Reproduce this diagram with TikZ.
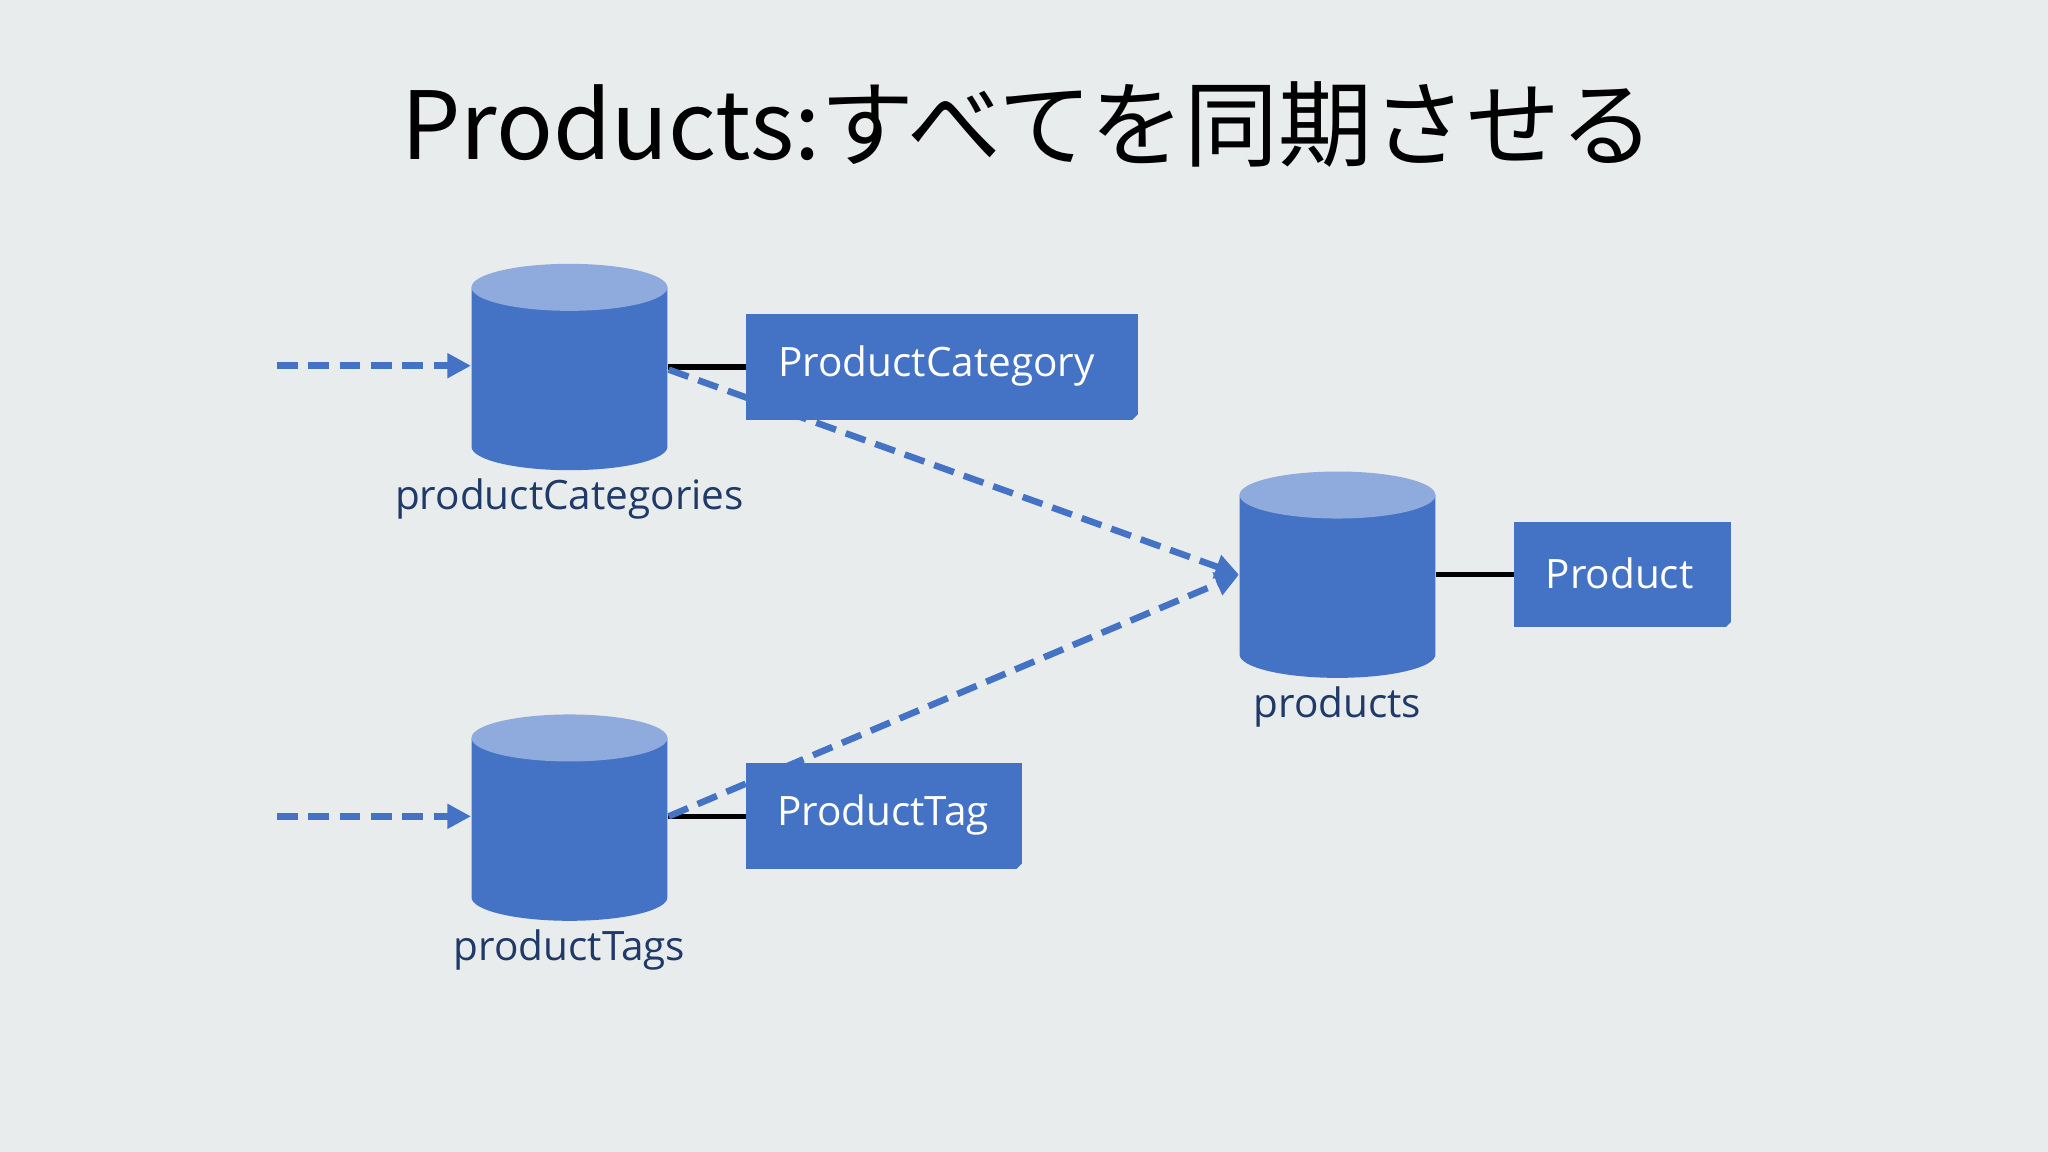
\documentclass[tikz,border=0pt]{standalone}
\usepackage{fontspec}
\setmainfont{Open Sans}
\newfontfamily\cjk{Noto Sans CJK JP}
\usetikzlibrary{arrows.meta}
\definecolor{bg}{HTML}{E8ECEC}
\definecolor{body}{HTML}{4472C4}
\definecolor{topc}{HTML}{8FAADC}
\definecolor{lab}{HTML}{1F3A68}
\begin{document}
\begin{tikzpicture}[x=0.5pt,y=-0.5pt,
  lbl/.style={text=lab,font=\fontsize{15.5}{18}\selectfont},
  box/.style={fill=body,text=white,font=\fontsize{16}{18}\selectfont,inner sep=0,anchor=north west},
  dasharrow/.style={body,line width=2.5pt,dash pattern=on 8pt off 4pt,-{Triangle[length=9pt,width=9pt]}},
  link/.style={black,line width=2pt}]
\fill[bg] (0,0) rectangle (1568,882);
\useasboundingbox (0,0) rectangle (1568,882);
\node[font=\cjk\fontsize{36}{40}\selectfont] (title) at (787,95) {Products:すべてを同期させる};
\def\cyl#1#2#3{%
  \fill[body] (#2-75,#3) -- (#2-75,#3+122) arc[start angle=180,end angle=0,x radius=75,y radius=18] -- (#2+75,#3) -- cycle;
  \fill[topc] (#2,#3) ellipse[x radius=75,y radius=18];
  \node[minimum width=75pt,minimum height=79pt,inner sep=0] (#1) at (#2,#3+61) {};}
\cyl{cat}{436}{220}
\cyl{tag}{436}{565}
\cyl{prod}{1024}{379}
\node[lbl] (catl) at (436,382) {productCategories};
\node[lbl] (tagl) at (436,727) {productTags};
\node[lbl] (prodl) at (1024,541) {products};
\node[box,minimum width=150pt,minimum height=40.5pt] (catb) at (571,240) {};
\node[box,minimum width=105.5pt,minimum height=40.5pt] (tagb) at (571,584) {};
\node[box,minimum width=83pt,minimum height=40.5pt] (prodb) at (1159,399) {};
\node[text=white,font=\fontsize{15.5}{18}\selectfont] (catt) at (717,280) {ProductCategory};
\node[text=white,font=\fontsize{15.5}{18}\selectfont] (tagt) at (676,624) {ProductTag};
\node[text=white,font=\fontsize{15.5}{18}\selectfont] (prodt) at (1240,439) {Product};
\foreach \b in {catb,tagb,prodb}{\fill[bg] (\b.south east) -- ++(-5,0) -- ++(5,-5) -- cycle;}
\coordinate (s1) at (212,280);
\coordinate (s2) at (212,625);
\draw[link] (cat.east|-catb.west) -- (catb.west);
\draw[link] (tag.east|-tagb.west) -- (tagb.west);
\draw[link] (prod.east|-prodb.west) -- (prodb.west);
\draw[dasharrow] (s1) -- (cat.west|-s1);
\draw[dasharrow] (s2) -- (tag.west|-s2);
\draw[dasharrow] (512,283) -- (prod.west);
\draw[dasharrow] (512,625) -- (prod.west);
\end{tikzpicture}
\end{document}
